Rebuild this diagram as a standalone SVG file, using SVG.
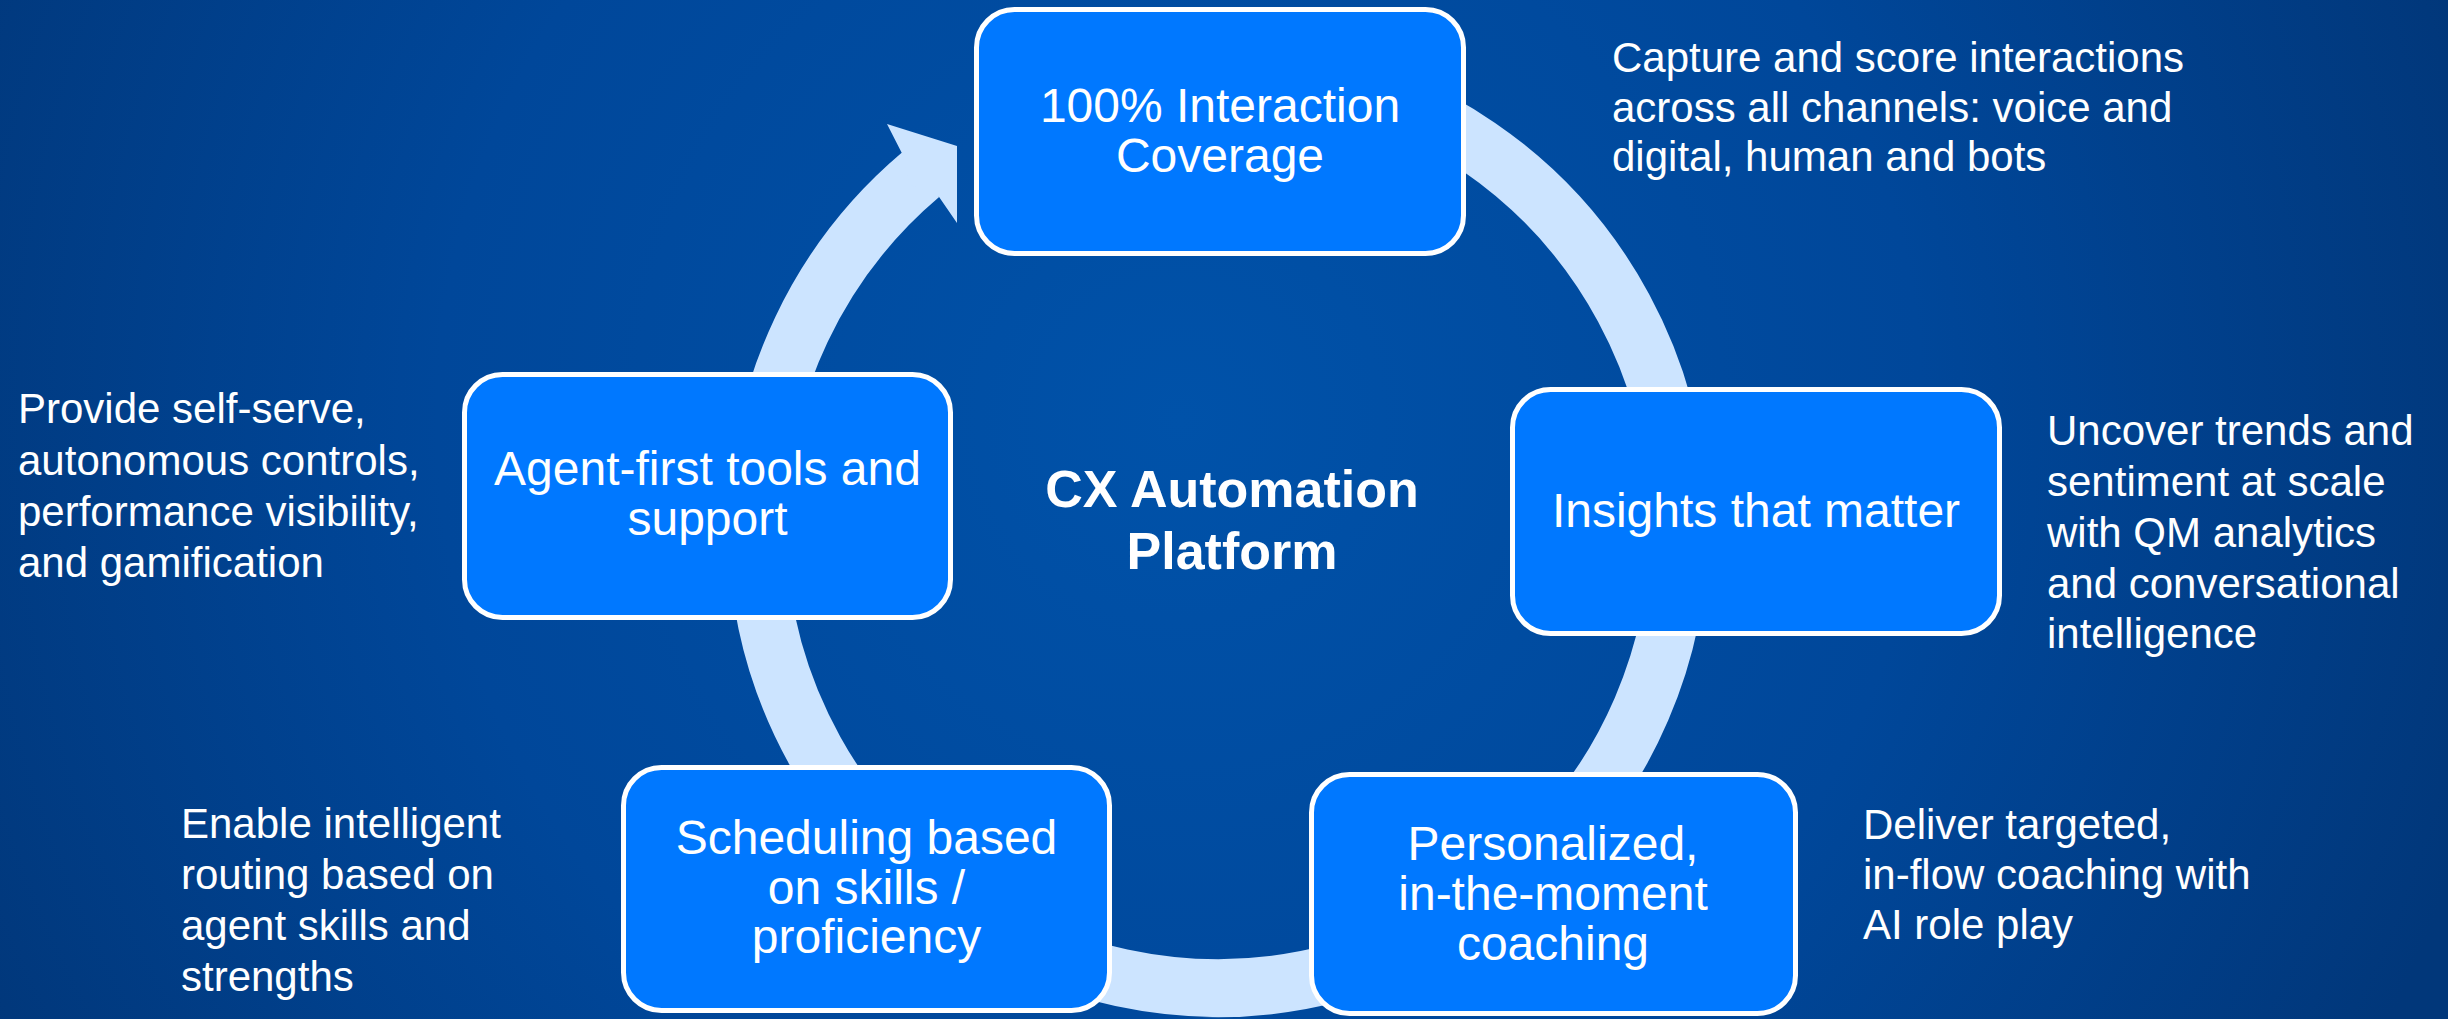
<svg xmlns="http://www.w3.org/2000/svg" width="2448" height="1019" viewBox="0 0 2448 1019">
  <defs>
    <radialGradient id="bg" gradientUnits="userSpaceOnUse" cx="1180" cy="420" r="1350">
      <stop offset="0" stop-color="#0052A9"/>
      <stop offset="0.55" stop-color="#00479A"/>
      <stop offset="1" stop-color="#01377A"/>
    </radialGradient>
    <style>
      .box { fill: #0078FF; stroke: #FFFFFF; stroke-width: 5; }
      .label { font-family: "Liberation Sans", Arial, sans-serif; font-size: 48px; fill: #FFFFFF; text-anchor: middle; }
      .desc { font-family: "Liberation Sans", Arial, sans-serif; font-size: 42px; fill: #FFFFFF; }
      .title { font-family: "Liberation Sans", Arial, sans-serif; font-size: 52px; font-weight: bold; fill: #FFFFFF; text-anchor: middle; }
      .ring { fill: none; stroke: #CCE4FF; stroke-width: 58; stroke-linecap: butt; }
      .head { fill: #CCE4FF; }
    </style>
  </defs>

  <rect width="2448" height="1019" fill="url(#bg)"/>

  <!-- cycle arrow: ring around the centre, head pointing into the top step -->
  <g id="connectors">
    <path class="ring" d="M 1298.05 73.0 A 461 461 0 1 1 920.4 174.9"/>
    <polygon class="head" points="901.7,152.7 887,124 957,146 957,223 939.1,197 909.5,184.4"/>
  </g>

  <g id="center-title">
    <text class="title" x="1232" y="507">CX Automation</text>
    <text class="title" x="1232" y="569">Platform</text>
  </g>

  <g id="node-coverage">
    <rect class="box" x="976.5" y="9.5" width="487" height="244" rx="38"/>
    <text class="label" x="1220" y="122">100% Interaction</text>
    <text class="label" x="1220" y="172">Coverage</text>
  </g>

  <g id="node-insights">
    <rect class="box" x="1512.5" y="389.5" width="487" height="244" rx="38"/>
    <text class="label" x="1756" y="527">Insights that matter</text>
  </g>

  <g id="node-coaching">
    <rect class="box" x="1311.5" y="774.5" width="484" height="239" rx="38"/>
    <text class="label" x="1553" y="860">Personalized,</text>
    <text class="label" x="1553" y="910">in-the-moment</text>
    <text class="label" x="1553" y="960">coaching</text>
  </g>

  <g id="node-scheduling">
    <rect class="box" x="623.5" y="767.5" width="486" height="243" rx="38"/>
    <text class="label" x="866.5" y="854">Scheduling based</text>
    <text class="label" x="866.5" y="904">on skills /</text>
    <text class="label" x="866.5" y="953">proficiency</text>
  </g>

  <g id="node-agent">
    <rect class="box" x="464.5" y="374.5" width="486" height="243" rx="38"/>
    <text class="label" x="707.5" y="485">Agent-first tools and</text>
    <text class="label" x="707.5" y="535">support</text>
  </g>

  <g id="desc-coverage">
    <text class="desc" x="1612" y="72">Capture and score interactions</text>
    <text class="desc" x="1612" y="121.5">across all channels: voice and</text>
    <text class="desc" x="1612" y="171">digital, human and bots</text>
  </g>

  <g id="desc-insights">
    <text class="desc" x="2047" y="445">Uncover trends and</text>
    <text class="desc" x="2047" y="496">sentiment at scale</text>
    <text class="desc" x="2047" y="547">with QM analytics</text>
    <text class="desc" x="2047" y="598">and conversational</text>
    <text class="desc" x="2047" y="648">intelligence</text>
  </g>

  <g id="desc-coaching">
    <text class="desc" x="1863" y="839">Deliver targeted,</text>
    <text class="desc" x="1863" y="889">in-flow coaching with</text>
    <text class="desc" x="1863" y="939">AI role play</text>
  </g>

  <g id="desc-scheduling">
    <text class="desc" x="181" y="838">Enable intelligent</text>
    <text class="desc" x="181" y="889">routing based on</text>
    <text class="desc" x="181" y="940">agent skills and</text>
    <text class="desc" x="181" y="991">strengths</text>
  </g>

  <g id="desc-agent">
    <text class="desc" x="18" y="423">Provide self-serve,</text>
    <text class="desc" x="18" y="475">autonomous controls,</text>
    <text class="desc" x="18" y="526">performance visibility,</text>
    <text class="desc" x="18" y="577">and gamification</text>
  </g>
</svg>
